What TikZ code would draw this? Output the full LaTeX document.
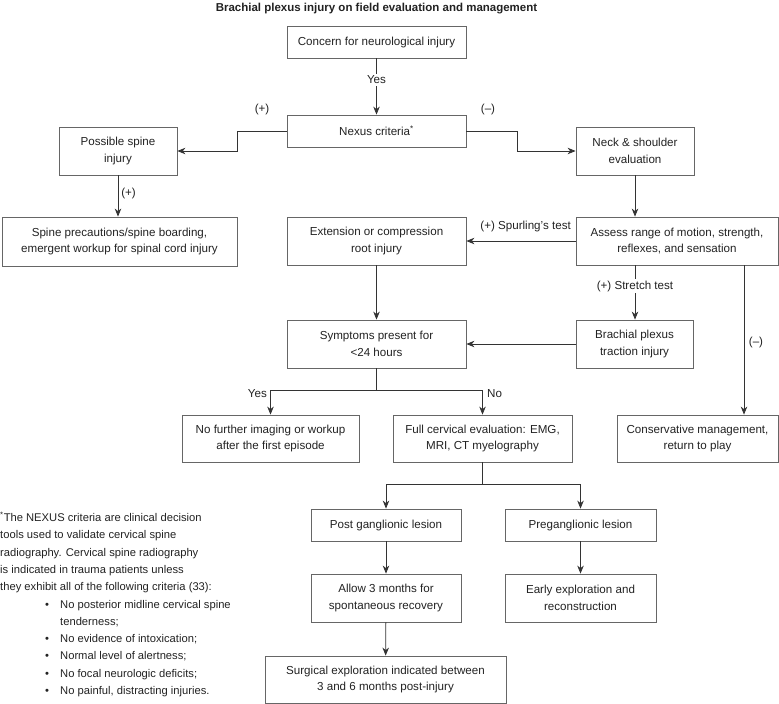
\documentclass[tikz,border=0pt]{standalone}
\usepackage{fontspec}
\setmainfont{Liberation Sans}
\usetikzlibrary{arrows.meta}
\definecolor{txt}{HTML}{222222}
\definecolor{bord}{HTML}{666666}
\definecolor{conn}{HTML}{333333}
\tikzset{
  x=1pt, y=-1pt,
  box/.style={draw=bord, line width=0.8pt, align=center, inner sep=0pt, text=txt,
    font=\fontsize{11.6}{16.7}\selectfont},
  conn/.style={draw=conn, line width=0.8pt},
  arr/.style={conn, -{Stealth[length=8pt,width=6.5pt,inset=2.5pt]}},
  lbl/.style={inner sep=1pt, text=txt, font=\fontsize{11.6}{14}\selectfont},
  wlbl/.style={lbl, fill=white, inner sep=2pt},
  foot/.style={inner sep=0pt, text=txt, align=left, font=\fontsize{11.2}{17.3}\selectfont},
}
\begin{document}
\begin{tikzpicture}
\useasboundingbox (0,0) rectangle (779,704);
% title
\node[anchor=base, inner sep=0pt, text=txt, font=\fontsize{11.5}{14}\selectfont\bfseries] (title) at (376.5,11) {Brachial plexus injury on field evaluation and management};
% boxes
\node[box, minimum width=179pt, minimum height=32pt] (concern) at (376.5,42) {Concern for neurological injury};
\node[box, minimum width=179pt, minimum height=32pt] (nexus) at (376.5,131) {Nexus criteria\textsuperscript{*}};
\node[box, minimum width=118pt, minimum height=48pt] (possible) at (118,151) {Possible spine\\injury};
\node[box, minimum width=118pt, minimum height=48pt] (neck) at (635,151) {Neck \& shoulder\\evaluation};
\node[box, minimum width=235pt, minimum height=49pt] (spine) at (119.5,241.5) {Spine precautions/spine boarding,\\emergent workup for spinal cord injury};
\node[box, minimum width=179pt, minimum height=48pt] (extension) at (376.5,241) {Extension or compression\\root injury};
\node[box, minimum width=202pt, minimum height=48pt] (assess) at (677,241) {Assess range of motion, strength,\\reflexes, and sensation};
\node[box, minimum width=179pt, minimum height=48pt] (symptoms) at (376.5,344) {Symptoms present for\\<24 hours};
\node[box, minimum width=117pt, minimum height=48pt] (brachial) at (634.5,344) {Brachial plexus\\traction injury};
\node[box, minimum width=177pt, minimum height=47pt] (noimg) at (270.5,438.5) {No further imaging or workup\\after the first episode};
\node[box, minimum width=179pt, minimum height=47pt] (full) at (482.5,438.5) {Full cervical evaluation: EMG,\\MRI, CT myelography};
\node[box, minimum width=161pt, minimum height=47pt] (cons) at (697.5,438.5) {Conservative management,\\return to play};
\node[box, minimum width=150pt, minimum height=32pt] (post) at (386,525) {Post ganglionic lesion};
\node[box, minimum width=151pt, minimum height=32pt] (pre) at (580.5,525) {Preganglionic lesion};
\node[box, minimum width=150pt, minimum height=48pt] (allow) at (386,598) {Allow 3 months for\\spontaneous recovery};
\node[box, minimum width=151pt, minimum height=48pt] (early) at (580.5,598) {Early exploration and\\reconstruction};
\node[box, minimum width=241pt, minimum height=47pt] (surg) at (385.5,679.5) {Surgical exploration indicated between\\3 and 6 months post-injury};
% connectors
\draw[arr] (concern) -- (nexus);
\node[wlbl] (yes1) at (376.5,80) {Yes};
\draw[arr] (nexus.west) -- (237,131) -- (237,151) -- (possible.east);
\draw[arr] (nexus.east) -- (517,131) -- (517,151) -- (neck.west);
\node[lbl] (plus1) at (262,109) {(+)};
\node[lbl] (minus1) at (488,109) {(--)};
\draw[arr] (possible.south) -- (possible.south |- spine.north);
\node[lbl] (plus2) at (128.5,193) {(+)};
\draw[arr] (neck.south) -- (neck.south |- assess.north);
\draw[arr] (assess.west) -- (extension.east);
\node[lbl, anchor=east] (spurl) at (572,226) {(+) Spurling’s test};
\draw[arr] (extension) -- (symptoms);
\coordinate (stretchtop) at (635,265);
\draw[arr] (stretchtop) -- (stretchtop |- brachial.north);
\node[wlbl] (stretch) at (635,286) {(+) Stretch test};
\draw[arr] (brachial.west) -- (symptoms.east);
\coordinate (constop) at (744,265);
\draw[arr] (constop) -- (constop |- cons.north);
\node[lbl] (minus2) at (756,342) {(--)};
\coordinate (split1) at (376.5,390);
\draw[conn] (symptoms.south) -- (split1);
\draw[arr] (split1) -- (noimg.north |- split1) -- (noimg.north);
\draw[arr] (split1) -- (full.north |- split1) -- (full.north);
\node[lbl, anchor=east] (yes2) at (268,394) {Yes};
\node[lbl, anchor=west] (no2) at (486,394) {No};
\coordinate (split2) at (482.5,484);
\draw[conn] (full.south) -- (split2);
\draw[arr] (split2) -- (post.north |- split2) -- (post.north);
\draw[arr] (split2) -- (pre.north |- split2) -- (pre.north);
\draw[arr] (post) -- (allow);
\draw[arr] (pre) -- (early);
\draw[arr] (allow) -- (surg);
% footnote
\node[foot, anchor=north west] (fn) at (0,512) {\textsuperscript{*}The NEXUS criteria are clinical decision\\
tools used to validate cervical spine\\
radiography. Cervical spine radiography\\
is indicated in trauma patients unless\\
they exhibit all of the following criteria (33):\\
\hspace*{45pt}\makebox[15pt][l]{•}No posterior midline cervical spine\\
\hspace*{60pt}tenderness;\\
\hspace*{45pt}\makebox[15pt][l]{•}No evidence of intoxication;\\
\hspace*{45pt}\makebox[15pt][l]{•}Normal level of alertness;\\
\hspace*{45pt}\makebox[15pt][l]{•}No focal neurologic deficits;\\
\hspace*{45pt}\makebox[15pt][l]{•}No painful, distracting injuries.};
\end{tikzpicture}
\end{document}
